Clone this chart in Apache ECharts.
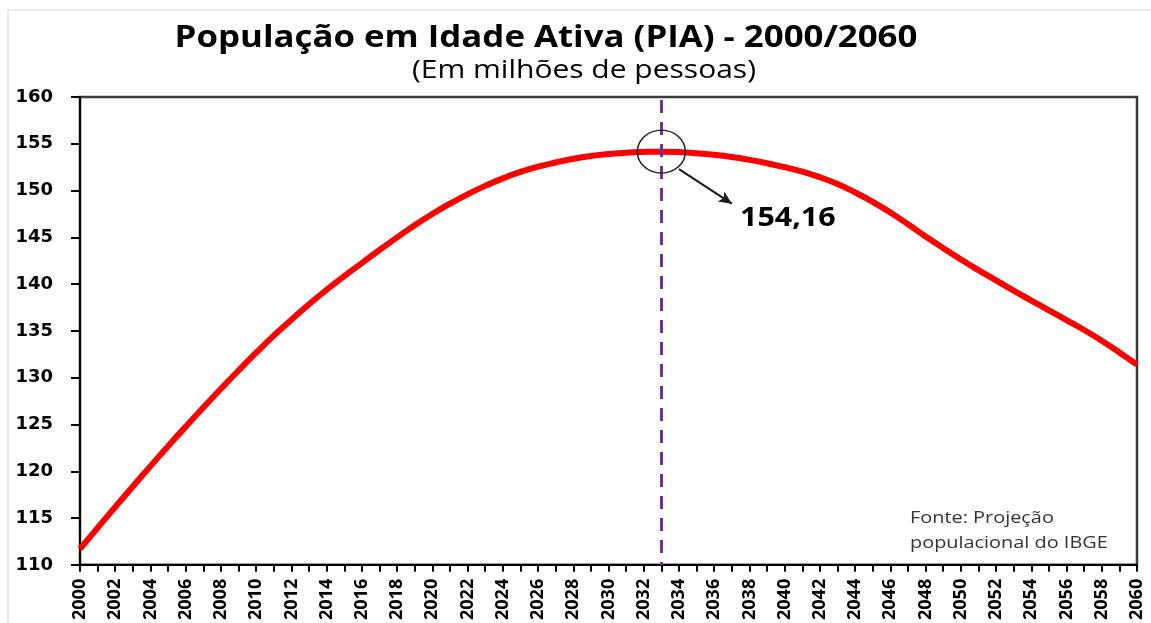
<!DOCTYPE html>
<html>
<head>
<meta charset="utf-8">
<title>PIA 2000/2060</title>
<script src="https://cdn.jsdelivr.net/npm/echarts@6/dist/echarts.min.js"></script>
<style>
  html, body { margin: 0; padding: 0; background: #fff; }
  #chart { width: 1151px; height: 623px; }
</style>
</head>
<body>
<div id="chart"></div>
<script>
// anos 2000..2060
const years = []
for (let y = 2000; y <= 2060; y++) years.push(String(y))

// PIA em milhoes de pessoas
const pia = [
  111.7, 113.95, 116.18, 118.38, 120.55, 122.68, 124.77, 126.82, 128.82, 130.77,
  132.67, 134.5, 136.2, 137.85, 139.4, 140.85, 142.25, 143.65, 145.0, 146.3,
  147.5, 148.6, 149.6, 150.5, 151.3, 152.0, 152.55, 153.0, 153.4, 153.7,
  153.9, 154.05, 154.13, 154.16, 154.12, 154.0, 153.82, 153.58, 153.28, 152.92,
  152.5, 152.02, 151.42, 150.7, 149.8, 148.8, 147.65, 146.4, 145.1, 143.85,
  142.65, 141.5, 140.4, 139.3, 138.25, 137.2, 136.15, 135.1, 133.95, 132.7,
  131.4
]

const peakYear = '2033'
const peakValue = 154.16
const yTicks = { min: 110, max: 160, step: 5 }

const titleText = 'População em Idade Ativa (PIA) - 2000/2060'
const subtitleText = '(Em milhões de pessoas)'
const peakText = '154,16'
const sourceText = 'Fonte: Projeção\npopulacional do IBGE'

const font = '"Open Sans", sans-serif'

let chart = echarts.init(document.getElementById('chart'))
let option = {
  animation: false,
  backgroundColor: '#fff',
  grid: {
    left: 80, top: 97, right: 14, bottom: 58,
    show: true, borderColor: '#3a3a3a', borderWidth: 2.5
  },
  xAxis: {
    type: 'category',
    data: years,
    boundaryGap: false,
    axisLine: { lineStyle: { color: '#000', width: 2 } },
    axisTick: { interval: 0, length: 7, lineStyle: { color: '#000', width: 2 } },
    axisLabel: {
      interval: 1, rotate: 90, margin: 14,
      fontFamily: font, fontWeight: 'bold', fontSize: 18, color: '#000'
    },
    splitLine: { show: false }
  },
  yAxis: {
    type: 'value',
    min: yTicks.min, max: yTicks.max, interval: yTicks.step,
    axisLine: { show: true, lineStyle: { color: '#000', width: 2 } },
    axisTick: { show: true, length: 9, lineStyle: { color: '#000', width: 2 } },
    axisLabel: {
      margin: 27,
      fontFamily: '"DejaVu Sans", sans-serif', fontWeight: 'bold', fontSize: 18, color: '#000'
    },
    splitLine: { show: false }
  },
  series: [
    {
      type: 'line',
      data: pia,
      smooth: 0.5,
      showSymbol: false,
      lineStyle: { color: '#ff0000', width: 6 },
      markLine: {
        silent: true,
        animation: false,
        label: { show: false },
        data: [
          [
            { xAxis: peakYear, y: 100, symbol: 'none',
              lineStyle: { type: [13, 9], color: '#7030a0', width: 3 } },
            { xAxis: peakYear, y: 565, symbol: 'none' }
          ],
          [
            { coord: [34, 152.3], symbol: 'none',
              lineStyle: { type: 'solid', color: '#1a1a1a', width: 2 } },
            { coord: [37, 148.6], symbol: 'arrow', symbolSize: [9, 13] }
          ]
        ]
      },
      markPoint: {
        silent: true,
        data: [{ coord: [peakYear, peakValue] }],
        symbol: 'circle',
        symbolSize: [48, 43],
        itemStyle: { color: 'rgba(0,0,0,0)', borderColor: '#222', borderWidth: 1.5 },
        label: { show: false }
      }
    }
  ],
  graphic: [
    {
      type: 'rect', z: -1,
      shape: { x: 8, y: 10, width: 1300, height: 800 },
      style: { fill: 'none', stroke: '#d6d6d6', lineWidth: 1 }
    },
    {
      type: 'text', x: 546, y: 23, scaleX: 1.16,
      style: {
        text: titleText, fill: '#000', textAlign: 'center',
        font: 'bold 30px ' + font
      }
    },
    {
      type: 'text', x: 584, y: 58, scaleX: 1.2,
      style: {
        text: subtitleText, fill: '#000', textAlign: 'center',
        font: '25px ' + font
      }
    },
    {
      type: 'text', x: 740, y: 206, scaleX: 1.17,
      style: { text: peakText, fill: '#000', font: 'bold 26px ' + font }
    },
    {
      type: 'text', x: 910, y: 506, scaleX: 1.17,
      style: {
        text: sourceText, fill: '#333', lineHeight: 25,
        font: '17px ' + font
      }
    }
  ]
}
chart.setOption(option)
</script>
</body>
</html>
